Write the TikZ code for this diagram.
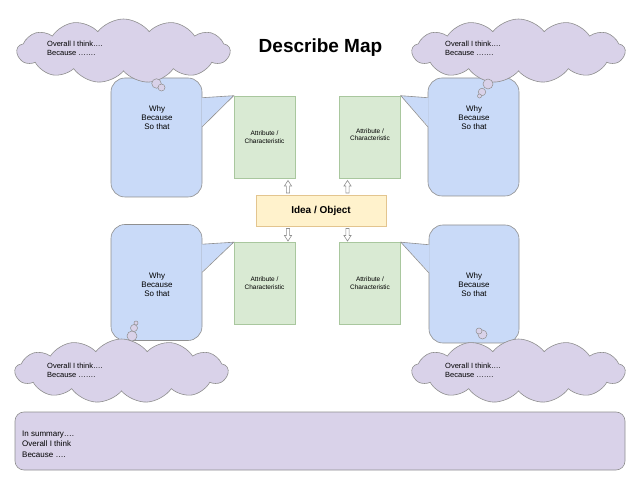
\documentclass[tikz,border=0pt]{standalone}
\usepackage{fontspec}
\setmainfont{Liberation Sans}
\usetikzlibrary{shapes.symbols,shapes.geometric}
\definecolor{cloudfill}{HTML}{D9D2E9}
\definecolor{calloutfill}{HTML}{C9DAF8}
\definecolor{attrfill}{HTML}{D9EAD3}
\definecolor{ideafill}{HTML}{FFF2CC}
\definecolor{ideaborder}{HTML}{E3C58F}
\definecolor{attrborder}{HTML}{A9C79E}
\definecolor{edgegrey}{HTML}{8F8F8F}
\tikzset{
  thought/.style={cloud, cloud puffs=13, cloud puff arc=105, aspect=3.2,
    fill=cloudfill, draw=edgegrey, line width=0.6pt, minimum width=213, minimum height=64, inner sep=0pt},
  bubble/.style={circle, fill=cloudfill, draw=edgegrey, line width=0.5pt, inner sep=0pt},
  callout/.style={rectangle, rounded corners=14pt, fill=calloutfill, draw=edgegrey, line width=0.6pt, inner sep=0pt},
  pointer/.style={fill=calloutfill},
  pointeredge/.style={draw=edgegrey, line width=0.6pt},
  attr/.style={rectangle, fill=attrfill, draw=attrborder, line width=0.6pt, minimum width=61, minimum height=82, inner sep=0pt,
    align=center, font=\fontsize{6.5}{8}\selectfont},
  idea/.style={rectangle, fill=ideafill, draw=ideaborder, line width=0.7pt, minimum width=130, minimum height=31, inner sep=0pt,
    font=\fontsize{10}{12}\selectfont\bfseries},
  whytext/.style={align=center, font=\fontsize{8}{9.3}\selectfont, inner sep=0pt},
  cloudtext/.style={align=left, anchor=west, font=\fontsize{7.5}{9}\selectfont, inner sep=0pt},
  hollowarrow/.style={fill=white, draw=edgegrey, line width=0.6pt},
  summary/.style={rectangle, rounded corners=9pt, fill=cloudfill, draw=edgegrey, line width=0.6pt, minimum width=610, minimum height=58, inner sep=0pt},
  sumtext/.style={align=left, anchor=west, font=\fontsize{8}{10.5}\selectfont, inner sep=0pt},
}
\begin{document}
\begin{tikzpicture}[x=1pt, y=-1pt]
\useasboundingbox (0,0) rectangle (640,478);

% title
\node[font=\fontsize{19}{22}\selectfont\bfseries, inner sep=0pt] (title) at (320.5,47.5) {Describe Map};

% callouts
\node[callout, minimum width=91, minimum height=119] (coTL) at (156.5,137.5) {};
\node[callout, minimum width=91, minimum height=118] (coTR) at (473.5,137) {};
\node[callout, minimum width=91, minimum height=116] (coBL) at (156.5,282.5) {};
\node[callout, minimum width=90, minimum height=118] (coBR) at (474,284) {};

% clouds (drawn over the callouts)
\node[thought] (cloudTL) at (123.5,51) {};
\node[thought] (cloudTR) at (518.5,51) {};
\node[thought] (cloudBL) at (121.5,371) {};
\node[thought] (cloudBR) at (518.5,371) {};
\node[cloudtext] (ctTL) at (47,48.5) {Overall I think….\\Because …….};
\node[cloudtext] (ctTR) at (445,48.5) {Overall I think….\\Because …….};
\node[cloudtext] (ctBL) at (47,370) {Overall I think….\\Because …….};
\node[cloudtext] (ctBR) at (445,370.5) {Overall I think….\\Because …….};

% attribute boxes
\node[attr] (atTL) at (264.5,137) {Attribute /\\Characteristic};
\node[attr] (atTR) at (370,137) {\raisebox{4pt}{\shortstack{Attribute /\\[-0.5pt]Characteristic}}};
\node[attr] (atBL) at (264.5,283.5) {Attribute /\\Characteristic};
\node[attr] (atBR) at (370,283.5) {Attribute /\\Characteristic};

% pointers
\fill[pointer] ([shift={(-0.8,20)}]coTL.north east) -- (atTL.north west) -- ([shift={(-0.8,49)}]coTL.north east) -- cycle;
\draw[pointeredge] ([shift={(0,20)}]coTL.north east) -- (atTL.north west) -- ([shift={(0,49)}]coTL.north east);

\fill[pointer] ([shift={(0.8,20)}]coTR.north west) -- (atTR.north east) -- ([shift={(0.8,49)}]coTR.north west) -- cycle;
\draw[pointeredge] ([shift={(0,20)}]coTR.north west) -- (atTR.north east) -- ([shift={(0,49)}]coTR.north west);

\fill[pointer] ([shift={(-0.8,20)}]coBL.north east) -- (atBL.north west) -- ([shift={(-0.8,48)}]coBL.north east) -- cycle;
\draw[pointeredge] ([shift={(0,20)}]coBL.north east) -- (atBL.north west) -- ([shift={(0,48)}]coBL.north east);

\fill[pointer] ([shift={(0.8,20)}]coBR.north west) -- (atBR.north east) -- ([shift={(0.8,48)}]coBR.north west) -- cycle;
\draw[pointeredge] ([shift={(0,20)}]coBR.north west) -- (atBR.north east) -- ([shift={(0,48)}]coBR.north west);

% callout texts
\node[whytext] (wTL) at (157,117.5) {Why\\Because\\So that};
\node[whytext] (wTR) at (474,117.5) {Why\\Because\\So that};
\node[whytext] (wBL) at (157,284.5) {Why\\Because\\So that};
\node[whytext] (wBR) at (474,284.5) {Why\\Because\\So that};

% thought bubbles
\node[bubble, minimum size=9.5] (bTL1) at (156.5,83.5) {};
\node[bubble, minimum size=7] (bTL2) at (161.5,87.5) {};
\node[bubble, minimum size=10] (bTR1) at (488,84) {};
\node[bubble, minimum size=7.5] (bTR2) at (482,92) {};
\node[bubble, minimum size=4] (bTR3) at (479.5,96) {};
\node[bubble, minimum size=10] (bBL1) at (132,336) {};
\node[bubble, minimum size=7] (bBL2) at (134,328) {};
\node[bubble, minimum size=4] (bBL3) at (136,323) {};
\node[bubble, minimum size=9] (bBR1) at (482.5,334.5) {};
\node[bubble, minimum size=6] (bBR2) at (479,331) {};

% idea box
\node[idea] (idea) at (321,210.5) {Idea / Object};

% hollow arrows (up)
\foreach \xx/\nm in {288/uL, 347.5/uR}{
  \coordinate (\nm) at (\xx,193);
  \draw[hollowarrow] (\nm) ++(-1.6,0) -- ++(0,-7) -- ++(-2,0) -- ++(3.6,-5.5) -- ++(3.6,5.5) -- ++(-2,0) -- ++(0,7) -- cycle;
}
% hollow arrows (down)
\foreach \xx/\nm in {288/dL, 347.5/dR}{
  \coordinate (\nm) at (\xx,228.5);
  \draw[hollowarrow] (\nm) ++(-1.6,0) -- ++(0,7) -- ++(-2,0) -- ++(3.6,5.5) -- ++(3.6,-5.5) -- ++(-2,0) -- ++(0,-7) -- cycle;
}

% summary
\node[summary] (sum) at (320,441) {};
\node[sumtext] (sumt) at (22,444) {In summary….\\Overall I think\\Because ….};
\end{tikzpicture}
\end{document}
